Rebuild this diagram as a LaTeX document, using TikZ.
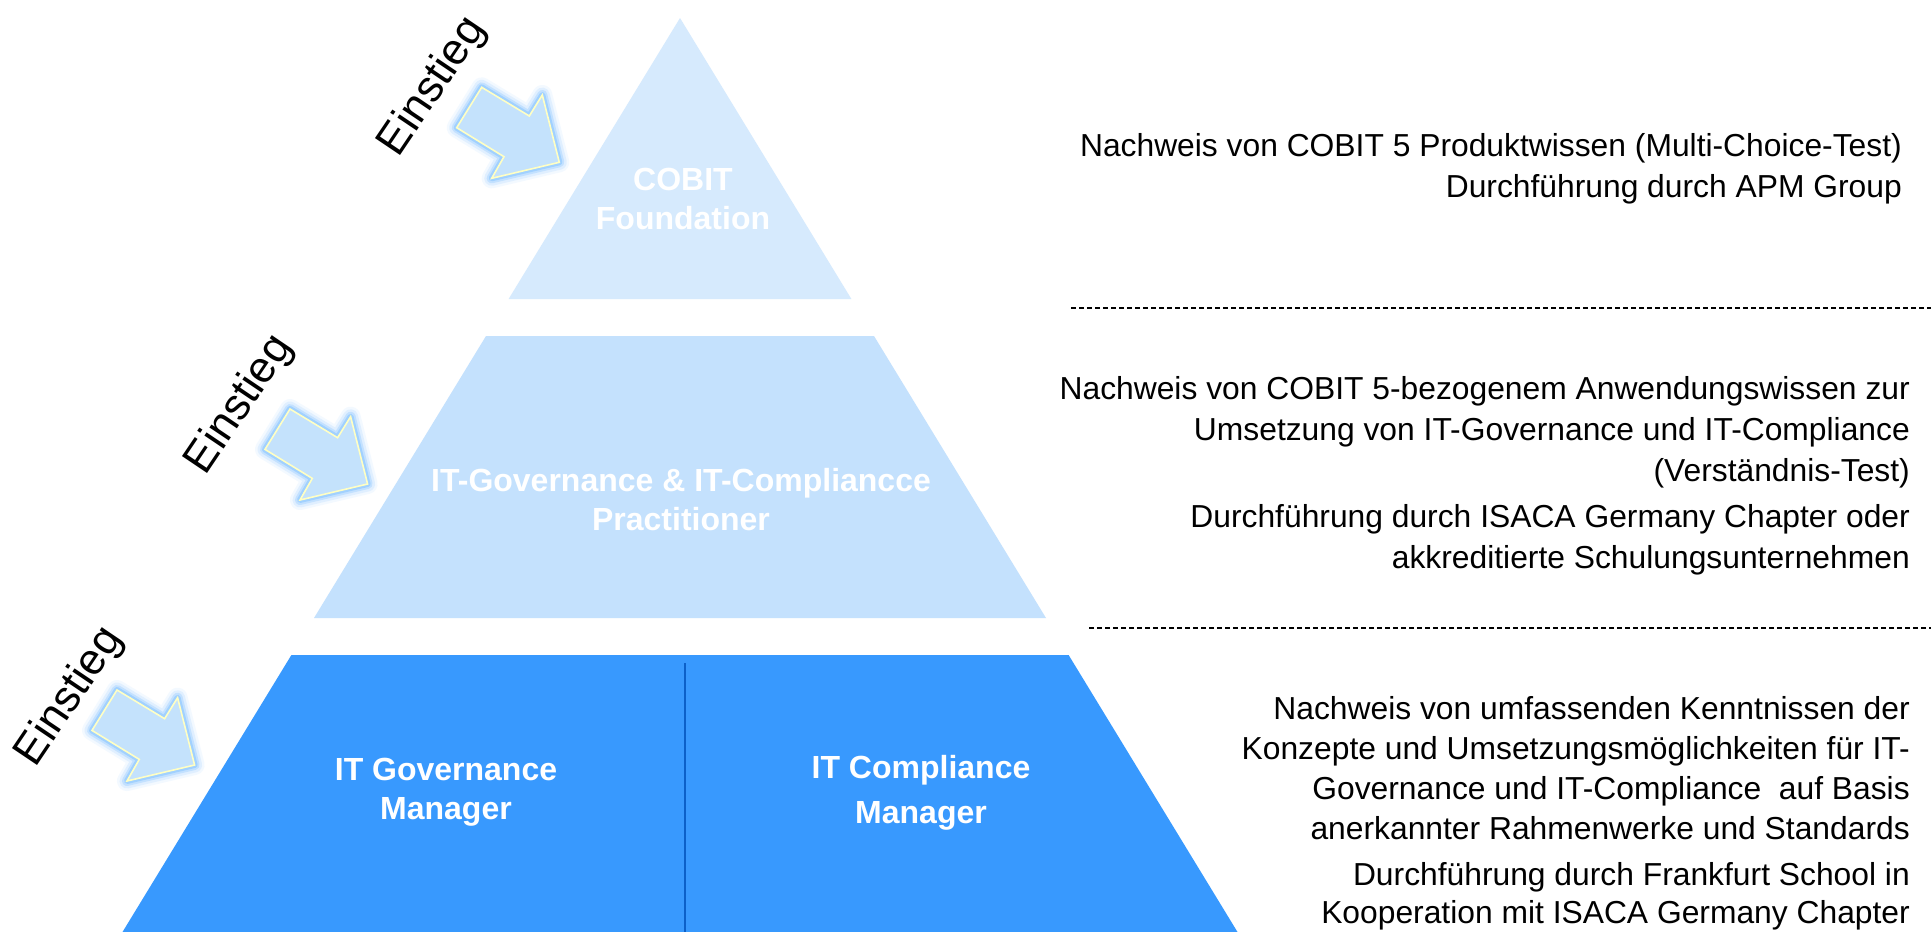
\documentclass[tikz,border=0pt]{standalone}
\usepackage{fontspec}
\setmainfont{Liberation Sans}
\definecolor{lvtop}{RGB}{214,234,253}
\definecolor{lvmid}{RGB}{196,225,253}
\definecolor{lvbot}{RGB}{56,153,254}
\definecolor{divc}{RGB}{12,96,200}
\definecolor{arrowfill}{RGB}{196,226,252}
\definecolor{arrowedge}{RGB}{255,255,196}
\definecolor{glowc}{RGB}{110,185,255}
\tikzset{
  rtext/.style={anchor=base east, inner sep=0pt, text=black, font=\fontsize{31.8}{39.5}\selectfont},
  lvtext/.style={text=white, align=center, inner sep=0pt, font=\bfseries\fontsize{32}{39}\selectfont},
  einstieg/.style={rotate=56, inner sep=0pt, text=black, font=\fontsize{44}{48}\selectfont},
  sep/.style={draw=black, line width=1.4pt, dash pattern=on 5pt off 3pt},
  entryarrow/.pic={
    \foreach \w/\o in {20/0.08, 15/0.14, 10/0.25, 6/0.4}{
      \draw[glowc, line width=\w pt, opacity=\o, line join=round]
        (-77.6,-75) -- (-30,-46.3) -- (-17,-67.3) -- (0,0) -- (-67.6,16) -- (-55.3,-5.6) -- (-102.6,-34.6) -- cycle;
    }
    \draw[fill=arrowfill, draw=arrowedge, line width=1.6pt, line join=miter]
      (-77.6,-75) -- (-30,-46.3) -- (-17,-67.3) -- (0,0) -- (-67.6,16) -- (-55.3,-5.6) -- (-102.6,-34.6) -- cycle;
  }
}
\begin{document}
\begin{tikzpicture}[x=1pt,y=-1pt]
\useasboundingbox[fill=white] (0,0) rectangle (1931,932);

% pyramid levels
\fill[lvtop] (680,18) -- (851.4,299) -- (508.6,299) -- cycle;
\fill[lvmid] (486,336) -- (874,336) -- (1046,618) -- (314,618) -- cycle;
\fill[lvbot] (291.4,655) -- (1068.6,655) -- (1237.5,932) -- (122.5,932) -- cycle;
\coordinate (divtop) at (685,663);
\coordinate (divbot) at (685,932);
\draw[divc, line width=2pt] (divtop) -- (divbot);

% level texts
\node[lvtext] (cobit) at (683,199) {COBIT\\Foundation};
\node[lvtext] (pract) at (681,500) {IT-Governance \& IT-Compliancce\\Practitioner};
\node[lvtext] (itgm) at (446,792) {IT Governance\\Manager};
\node[lvtext, font=\bfseries\fontsize{32}{45}\selectfont] (itcm) at (921,793) {IT Compliance\\Manager};

% entry arrows and labels
\pic at (559.3,162.3) {entryarrow};
\pic at (367.6,484) {entryarrow};
\pic at (194.6,765) {entryarrow};
\node[einstieg] (e1) at (433,87) {Einstieg};
\node[einstieg] (e2) at (240,405) {Einstieg};
\node[einstieg] (e3) at (70,697) {Einstieg};

% separators
\coordinate (s1a) at (1071,308);
\coordinate (s1b) at (1931,308);
\coordinate (s2a) at (1089,628);
\coordinate (s2b) at (1931,628);
\draw[sep] (s1a) -- (s1b);
\draw[sep] (s2a) -- (s2b);

% right texts
\node[rtext] (t1a) at (1902,156) {Nachweis von COBIT 5 Produktwissen (Multi-Choice-Test)};
\node[rtext] (t1b) at (1902,197) {Durchführung durch APM Group};

\node[rtext] (t2a) at (1910,399) {Nachweis von COBIT 5-bezogenem Anwendungswissen zur};
\node[rtext] (t2b) at (1910,440) {Umsetzung von IT-Governance und IT-Compliance};
\node[rtext] (t2c) at (1910,481) {(Verständnis-Test)};
\node[rtext] (t2d) at (1910,527) {Durchführung durch ISACA Germany Chapter oder};
\node[rtext] (t2e) at (1910,568) {akkreditierte Schulungsunternehmen};

\node[rtext] (t3a) at (1910,719) {Nachweis von umfassenden Kenntnissen der};
\node[rtext] (t3b) at (1910,759) {Konzepte und Umsetzungsmöglichkeiten für IT-};
\node[rtext] (t3c) at (1910,799) {Governance und IT-Compliance\ \ auf Basis};
\node[rtext] (t3d) at (1910,839) {anerkannter Rahmenwerke und Standards};
\node[rtext] (t3e) at (1910,885) {Durchführung durch Frankfurt School in};
\node[rtext] (t3f) at (1910,923) {Kooperation mit ISACA Germany Chapter};
\end{tikzpicture}
\end{document}
